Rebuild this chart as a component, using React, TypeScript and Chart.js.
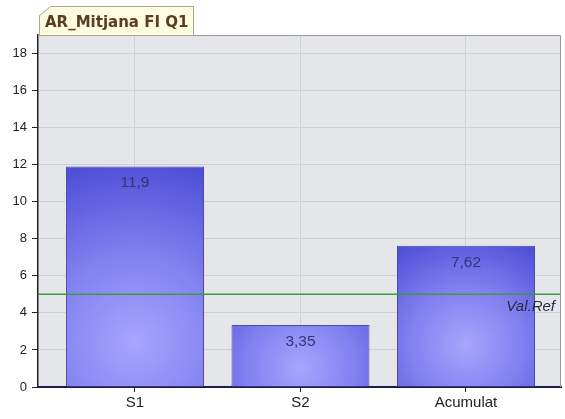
import React, { useEffect, useRef } from "react";
import { Chart, registerables } from "chart.js";

Chart.register(...registerables);

const categories = ["S1", "S2", "Acumulat"];
const values = [11.9, 3.35, 7.62];
const valueLabels = ["11,9", "3,35", "7,62"];
const refValue = 5;
const refLabel = "Val.Ref";
const yTicks = [0, 2, 4, 6, 8, 10, 12, 14, 16, 18];
const title = "AR_Mitjana FI Q1";

const X_MIN = -0.586;
const X_MAX = 2.574;
const Y_MAX = 19;
const BAR_PCT = 0.834;
const FONT = "'Liberation Sans', Arial, sans-serif";

export default function App() {
  const ref = useRef<HTMLCanvasElement | null>(null);

  useEffect(() => {
    document.body.style.margin = "0";
    const canvas = ref.current;
    if (!canvas) return;

    const bgPlugin = {
      id: "plotBg",
      beforeDraw(chart: any) {
        const { ctx, chartArea: a } = chart;
        if (!a) return;
        ctx.save();
        ctx.fillStyle = "#e5e6e9";
        ctx.fillRect(a.left, a.top, a.right - a.left, a.bottom - a.top);
        ctx.restore();
      },
    };

    const overlayPlugin = {
      id: "overlay",
      afterDatasetsDraw(chart: any) {
        const { ctx, chartArea: a, scales } = chart;
        const meta = chart.getDatasetMeta(0);
        ctx.save();
        ctx.font = `15.5px ${FONT}`;
        ctx.fillStyle = "#303578";
        ctx.textAlign = "center";
        ctx.textBaseline = "middle";
        meta.data.forEach((el: any, i: number) => {
          ctx.fillText(valueLabels[i], el.x, el.y + 16.5);
        });
        const yr = scales.y.getPixelForValue(refValue);
        ctx.strokeStyle = "#3f9a3f";
        ctx.lineWidth = 1.5;
        ctx.beginPath();
        ctx.moveTo(a.left, yr);
        ctx.lineTo(a.right, yr);
        ctx.stroke();
        ctx.font = `italic 15px ${FONT}`;
        ctx.fillStyle = "#2a2a40";
        ctx.textAlign = "right";
        ctx.fillText(refLabel, a.right - 6, yr + 12);
        ctx.restore();
      },
      afterDraw(chart: any) {
        const { ctx, chartArea: a } = chart;
        ctx.save();
        ctx.strokeStyle = "#9a9a9a";
        ctx.lineWidth = 1;
        ctx.beginPath();
        ctx.moveTo(a.left, a.top + 0.5);
        ctx.lineTo(a.right - 0.5, a.top + 0.5);
        ctx.lineTo(a.right - 0.5, a.bottom);
        ctx.stroke();
        const l = a.left + 1.5;
        const r = 193.5;
        const t = 6.5;
        const b = a.top + 0.5;
        ctx.beginPath();
        ctx.moveTo(l, b);
        ctx.lineTo(l, t + 9);
        ctx.lineTo(l + 11, t);
        ctx.lineTo(r, t);
        ctx.lineTo(r, b);
        ctx.closePath();
        ctx.fillStyle = "#fdfbe0";
        ctx.fill();
        ctx.strokeStyle = "#aaa58c";
        ctx.stroke();
        ctx.font = `bold 15px 'DejaVu Sans', sans-serif`;
        ctx.fillStyle = "#5a3d22";
        ctx.textAlign = "left";
        ctx.textBaseline = "middle";
        ctx.fillText(title, 45, 23);
        ctx.restore();
      },
    };

    const barColor = (c: any) => {
      const chart = c.chart;
      const { chartArea, scales } = chart;
      if (!chartArea || c.type !== "data" || !scales.x || !scales.y) return "#7474e8";
      const i = c.dataIndex;
      const x = scales.x.getPixelForValue(i);
      const top = scales.y.getPixelForValue(values[i]);
      const base = scales.y.getPixelForValue(0);
      const h = base - top;
      const w = (scales.x.getPixelForValue(1) - scales.x.getPixelForValue(0)) * BAR_PCT;
      const cy = base - Math.min(h * 0.3, 45);
      const g = chart.ctx.createRadialGradient(x, cy, 0, x, cy, Math.max(w, h) * 0.9);
      g.addColorStop(0, "#a6a6fd");
      g.addColorStop(0.45, "#8080f0");
      g.addColorStop(1, "#4646d2");
      return g;
    };

    const chart = new Chart(canvas, {
      type: "bar",
      data: {
        datasets: [
          {
            data: values.map((v, i) => ({ x: i, y: v })),
            backgroundColor: barColor,
            borderColor: "#4a4aa8",
            borderWidth: 1,
            categoryPercentage: 1,
            barPercentage: BAR_PCT,
          },
        ],
      },
      options: {
        animation: false,
        responsive: false,
        devicePixelRatio: 1,
        layout: { padding: { top: 35, right: 4, left: 0, bottom: 0 } },
        plugins: {
          legend: { display: false },
          tooltip: { enabled: false },
          title: { display: false },
        },
        scales: {
          x: {
            type: "linear",
            offset: false,
            min: X_MIN,
            max: X_MAX,
            afterBuildTicks: (s: any) => {
              s.ticks = categories.map((_, i) => ({ value: i }));
            },
            afterFit: (s: any) => {
              s.height = 32;
            },
            ticks: {
              callback: (v: any) => categories[v as number] ?? "",
              color: "#222",
              font: { family: FONT, size: 15 },
              padding: 2,
              maxRotation: 0,
              autoSkip: false,
            },
            grid: {
              offset: false,
              color: "#cdd0d4",
              tickColor: "#222",
              tickLength: 5,
            },
            border: { color: "#1c1c50", width: 2 },
          },
          y: {
            min: 0,
            max: Y_MAX,
            afterBuildTicks: (s: any) => {
              s.ticks = yTicks.map((v) => ({ value: v }));
            },
            afterFit: (s: any) => {
              s.width = 38;
            },
            ticks: {
              color: "#222",
              font: { family: FONT, size: 13 },
              padding: 5,
            },
            grid: {
              color: "#cdd0d4",
              tickColor: "#222",
              tickLength: 6,
            },
            border: { color: "#222", width: 1.5 },
          },
        },
      },
      plugins: [bgPlugin, overlayPlugin],
    });

    return () => chart.destroy();
  }, []);

  return (
    <div style={{ width: 565, height: 419, background: "#fff" }}>
      <canvas ref={ref} width={565} height={419} />
    </div>
  );
}
